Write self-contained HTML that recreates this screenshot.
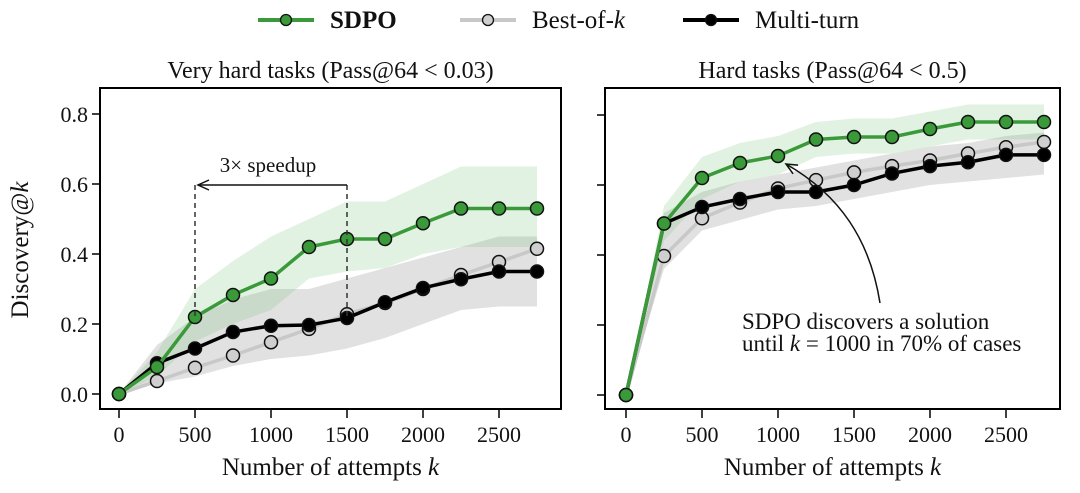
<!DOCTYPE html>
<html><head><meta charset="utf-8">
<style>
html,body{margin:0;padding:0;background:#fff;}
svg{display:block;font-family:"Liberation Serif",serif;}
</style></head>
<body>
<svg id="chart" width="1080" height="493" viewBox="0 0 1080 493"></svg>
<script>
const categories = [0,250,500,750,1000,1250,1500,1750,2000,2250,2500,2750];
const xTicks = [0,500,1000,1500,2000,2500];
const yTicks = [0.0,0.2,0.4,0.6,0.8];
const yTickLabels = ["0.0","0.2","0.4","0.6","0.8"];
// Left: very hard tasks
const leftSdpo  = [0,0.077,0.22,0.283,0.33,0.42,0.443,0.443,0.488,0.53,0.53,0.53];
const leftSdpoHi= [0,0.12,0.30,0.38,0.45,0.50,0.55,0.55,0.60,0.65,0.65,0.65];
const leftSdpoLo= [0,0.05,0.15,0.20,0.24,0.33,0.35,0.36,0.40,0.42,0.42,0.42];
const leftBest  = [0,0.037,0.075,0.11,0.148,0.186,0.228,0.26,0.30,0.34,0.377,0.415];
const leftMulti = [0,0.088,0.13,0.177,0.195,0.197,0.217,0.262,0.303,0.328,0.35,0.35];
const leftMultiHi=[0,0.14,0.22,0.27,0.30,0.30,0.33,0.36,0.39,0.42,0.45,0.45];
const leftMultiLo=[0,0.03,0.05,0.08,0.10,0.11,0.13,0.16,0.20,0.24,0.25,0.25];
// Right: hard tasks
const rightSdpo  = [0,0.49,0.62,0.663,0.683,0.73,0.737,0.737,0.76,0.78,0.78,0.78];
const rightSdpoHi= [0,0.54,0.68,0.72,0.74,0.78,0.79,0.79,0.81,0.83,0.83,0.83];
const rightSdpoLo= [0,0.44,0.56,0.61,0.63,0.68,0.69,0.69,0.71,0.73,0.73,0.73];
const rightBest  = [0,0.397,0.505,0.55,0.59,0.614,0.636,0.654,0.67,0.69,0.708,0.723];
const rightMulti = [0,0.49,0.537,0.56,0.58,0.58,0.60,0.633,0.654,0.665,0.686,0.686];
const rightMultiHi=[0,0.52,0.58,0.61,0.63,0.65,0.67,0.69,0.71,0.72,0.74,0.75];
const rightMultiLo=[0,0.36,0.47,0.50,0.53,0.54,0.56,0.58,0.60,0.61,0.62,0.63];

const NS="http://www.w3.org/2000/svg";
const svg=document.getElementById('chart');
function mk(tag,attrs,parent){const e=document.createElementNS(NS,tag);for(const k in attrs)e.setAttribute(k,attrs[k]);(parent||svg).appendChild(e);return e;}

const defs=mk('defs',{});
const mkr=mk('marker',{id:'arr',markerWidth:14,markerHeight:12,refX:12,refY:6,orient:'auto',markerUnits:'userSpaceOnUse'},defs);
mk('path',{d:'M1,1 L12,6 L1,11',fill:'none',stroke:'#111','stroke-width':1.5},mkr);

function panel(opt){
  const x=v=>opt.x0+v*(76/500);
  const y=v=>opt.y0-v*350;
  const g=mk('g',{});
  
  
  function band(hi,lo,fill,op,name){
    let d='M'+categories.map((c,i)=>x(c)+','+y(hi[i])).join(' L');
    for(let i=categories.length-1;i>=0;i--)d+=' L'+x(categories[i])+','+y(lo[i]);
    const p=mk('path',{d:d+'Z',fill:fill,'fill-opacity':op},g);
    
    
  }
  band(opt.multiHi,opt.multiLo,'#9a9a9a',0.3,'multi-turn-band');
  band(opt.sdpoHi,opt.sdpoLo,'#7cc47c',0.22,'sdpo-band');
  function series(vals,color,w,mfill,name){
    const sg=mk('g',{},g);
    
    
    mk('polyline',{points:categories.map((c,i)=>x(c)+','+y(vals[i])).join(' '),fill:'none',stroke:color,'stroke-width':w,'stroke-linejoin':'round'},sg);
    categories.forEach((c,i)=>{
      const m=mk('circle',{cx:x(c),cy:y(vals[i]),r:6.5,fill:mfill,stroke:'#111','stroke-width':1.5},sg);
      
      
    });
  }
  series(opt.best,'#c8c8c8',3.5,'#cfcfcf','best-of-k-series');
  series(opt.multi,'#000',3.5,'#000','multi-turn-series');
  series(opt.sdpo,'#3a9a3a',3.5,'#3a9a3a','sdpo-series');
  const fr=mk('rect',{x:opt.fx,y:88,width:opt.fw,height:321,fill:'none',stroke:'#000','stroke-width':2},g);
  
  
  xTicks.forEach(t=>{
    mk('line',{x1:x(t),x2:x(t),y1:409,y2:418,stroke:'#000','stroke-width':1.5},g);
    const tx=mk('text',{x:x(t),y:442,'text-anchor':'middle','font-size':22,fill:'#111'},g);
    tx.textContent=t;
    
    
  });
  yTicks.forEach((t,i)=>{
    mk('line',{x1:opt.fx,x2:opt.fx-8,y1:y(t),y2:y(t),stroke:'#000','stroke-width':1.5},g);
    if(opt.ylabels){
      const tx=mk('text',{x:opt.fx-12,y:y(t)+8,'text-anchor':'end','font-size':22,fill:'#111'},g);
      tx.textContent=yTickLabels[i];
      
      
    }
  });
  const xt=mk('text',{x:opt.fx+opt.fw/2,y:475,'text-anchor':'middle','font-size':25,fill:'#111'},g);
  xt.innerHTML='Number of attempts <tspan font-style="italic">k</tspan>';
  
  
  const tt=mk('text',{x:opt.fx+opt.fw/2,y:78,'text-anchor':'middle','font-size':24,fill:'#111'},g);
  tt.textContent=opt.title;
  
  
  return {x,y,g};
}

const L=panel({name:'very-hard-panel',x0:119,y0:394,fx:100,fw:461,ylabels:true,title:'Very hard tasks (Pass@64 < 0.03)',
  sdpo:leftSdpo,sdpoHi:leftSdpoHi,sdpoLo:leftSdpoLo,best:leftBest,multi:leftMulti,multiHi:leftMultiHi,multiLo:leftMultiLo});
const R=panel({name:'hard-panel',x0:626,y0:395,fx:605,fw:455,ylabels:false,title:'Hard tasks (Pass@64 < 0.5)',
  sdpo:rightSdpo,sdpoHi:rightSdpoHi,sdpoLo:rightSdpoLo,best:rightBest,multi:rightMulti,multiHi:rightMultiHi,multiLo:rightMultiLo});

const yt=mk('text',{transform:'translate(28,250) rotate(-90)','text-anchor':'middle','font-size':25,fill:'#111'});
yt.innerHTML='Discovery@<tspan font-style="italic">k</tspan>';



const ag=mk('g',{});


mk('line',{x1:L.x(500),x2:L.x(500),y1:185,y2:L.y(leftSdpo[2]),stroke:'#333','stroke-width':1.5,'stroke-dasharray':'5,4'},ag);
mk('line',{x1:L.x(1500),x2:L.x(1500),y1:185,y2:L.y(leftMulti[6]),stroke:'#333','stroke-width':1.5,'stroke-dasharray':'5,4'},ag);
mk('line',{x1:L.x(1500),x2:L.x(500)+3,y1:185,y2:185,stroke:'#111','stroke-width':1.5,'marker-end':'url(#arr)'},ag);
const st=mk('text',{x:268,y:172,'text-anchor':'middle','font-size':21,fill:'#111'},ag);
st.textContent='3× speedup';

const rg=mk('g',{});


mk('path',{d:'M880,303 C870,240 840,195 786,164',fill:'none',stroke:'#111','stroke-width':1.5,'marker-end':'url(#arr)'},rg);
const a1=mk('text',{x:742,y:329,'font-size':23,fill:'#111'},rg);
a1.textContent='SDPO discovers a solution';
const a2=mk('text',{x:742,y:351,'font-size':23,fill:'#111'},rg);
a2.innerHTML='until <tspan font-style="italic">k</tspan> = 1000 in 70% of cases';

const lg=mk('g',{});


const legendItems=[['SDPO','#3a9a3a','#3a9a3a',258,true],['Best-of-k','#c8c8c8','#cfcfcf',460,false],['Multi-turn','#000','#000',683,false]];
legendItems.forEach(it=>{
  const e=mk('g',{},lg);
  
  
  mk('line',{x1:it[3],x2:it[3]+56,y1:20,y2:20,stroke:it[1],'stroke-width':4},e);
  mk('circle',{cx:it[3]+28,cy:20,r:5.5,fill:it[2],stroke:'#111','stroke-width':1.3},e);
  const t=mk('text',{x:it[3]+72,y:28,'font-size':25,fill:'#111','font-weight':it[4]?'bold':'normal'},e);
  if(it[0]==='Best-of-k')t.innerHTML='Best-of-<tspan font-style="italic">k</tspan>';else t.textContent=it[0];
});
</script>
</body></html>
